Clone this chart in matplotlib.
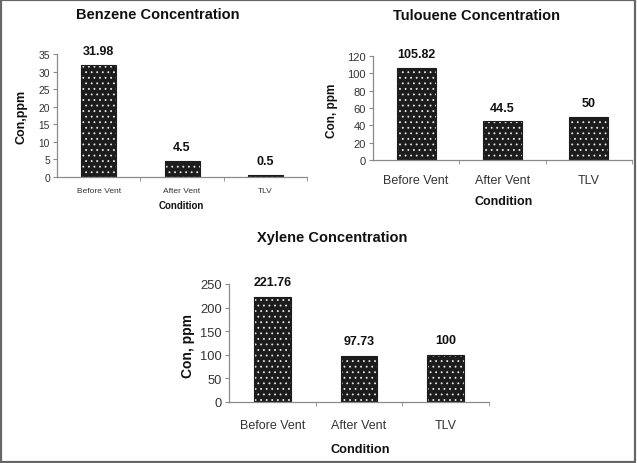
import matplotlib
matplotlib.use('Agg')
import matplotlib.pyplot as plt
from matplotlib.patches import Rectangle

plt.rcParams['font.family'] = ['Liberation Sans', 'DejaVu Sans']
plt.rcParams['hatch.linewidth'] = 0.6

# data
conditions = ['Before Vent', 'After Vent', 'TLV']
benzene = [31.98, 4.5, 0.5]
tulouene = [105.82, 44.5, 50]
xylene = [221.76, 97.73, 100]
benzene_labels = ['31.98', '4.5', '0.5']
tulouene_labels = ['105.82', '44.5', '50']
xylene_labels = ['221.76', '97.73', '100']

BAR = '#1c1c1c'
AXIS = '#8a8a8a'
TICK_TXT = '#333333'


def draw_panel(fig, rect, values, labels, ymax, ystep, title, title_xy, title_size,
               ylabel, ylabel_xy, ylabel_size, xlabel_xy, xlabel_size,
               ytick_size, xtick_size, xtick_pad, label_off, width):
    ax = fig.add_axes(rect)
    x = range(len(values))
    # dark bars with white dot pattern
    ax.bar(x, values, width=width, color=BAR, edgecolor='#e6e6e6', hatch='...', linewidth=0)
    ax.bar(x, values, width=width, fill=False, edgecolor=BAR, linewidth=0.8)
    for xi, v, lab in zip(x, values, labels):
        ax.annotate(lab, (xi, v), xytext=(0, label_off), textcoords='offset points',
                    ha='center', va='center', fontsize=9, fontweight='bold', color='#111111')
    ax.set_xlim(-0.5, len(values) - 0.5)
    ax.set_ylim(0, ymax)
    ax.set_yticks(range(0, ymax + 1, ystep))
    ax.set_xticks(list(x))
    ax.set_xticklabels(conditions, fontsize=xtick_size, color=TICK_TXT)
    ax.set_xticks([0.5, 1.5, 2.5], minor=True)
    ax.tick_params(axis='x', which='major', length=0, pad=xtick_pad)
    ax.tick_params(axis='x', which='minor', length=3, color=AXIS, direction='out')
    ax.tick_params(axis='y', length=3, color=AXIS, direction='out', pad=2,
                   labelsize=ytick_size, labelcolor=TICK_TXT)
    for s in ['top', 'right']:
        ax.spines[s].set_visible(False)
    for s in ['left', 'bottom']:
        ax.spines[s].set_color(AXIS)
        ax.spines[s].set_linewidth(0.9)
    fig.text(title_xy[0], title_xy[1], title, ha='center', va='center',
             fontsize=title_size, fontweight='bold', color='#111111')
    fig.text(ylabel_xy[0], ylabel_xy[1], ylabel, ha='center', va='center', rotation=90,
             fontsize=ylabel_size, fontweight='bold', color='#111111')
    fig.text(xlabel_xy[0], xlabel_xy[1], 'Condition', ha='center', va='center',
             fontsize=xlabel_size, fontweight='bold', color='#111111')
    return ax


def main():
    fig = plt.figure(figsize=(6.37, 4.64), dpi=100)

    draw_panel(fig, [0.0895, 0.6164, 0.3925, 0.2651], benzene, benzene_labels, 35, 5,
               'Benzene Concentration', (0.247, 0.968), 10.5,
               'Con,ppm', (0.033, 0.748), 9, (0.284, 0.556), 7,
               7.4, 6, 7, 10, 0.42)
    draw_panel(fig, [0.5856, 0.653, 0.4064, 0.224], tulouene, tulouene_labels, 120, 20,
               'Tulouene Concentration', (0.748, 0.966), 10.5,
               'Con, ppm', (0.521, 0.761), 8.5, (0.791, 0.565), 9,
               8, 9, 10, 10, 0.45)
    draw_panel(fig, [0.3595, 0.1315, 0.4082, 0.2543], xylene, xylene_labels, 250, 50,
               'Xylene Concentration', (0.521, 0.487), 10.5,
               'Con, ppm', (0.295, 0.254), 10, (0.565, 0.030), 9.2,
               9.3, 9, 12, 11, 0.42)

    # outer frame
    fig.patches.append(Rectangle((0.002, 0.003), 0.995, 0.994, transform=fig.transFigure,
                                 fill=False, edgecolor='#666666', linewidth=1.6))

    fig.savefig('out.png', dpi=100)


if __name__ == '__main__':
    main()
